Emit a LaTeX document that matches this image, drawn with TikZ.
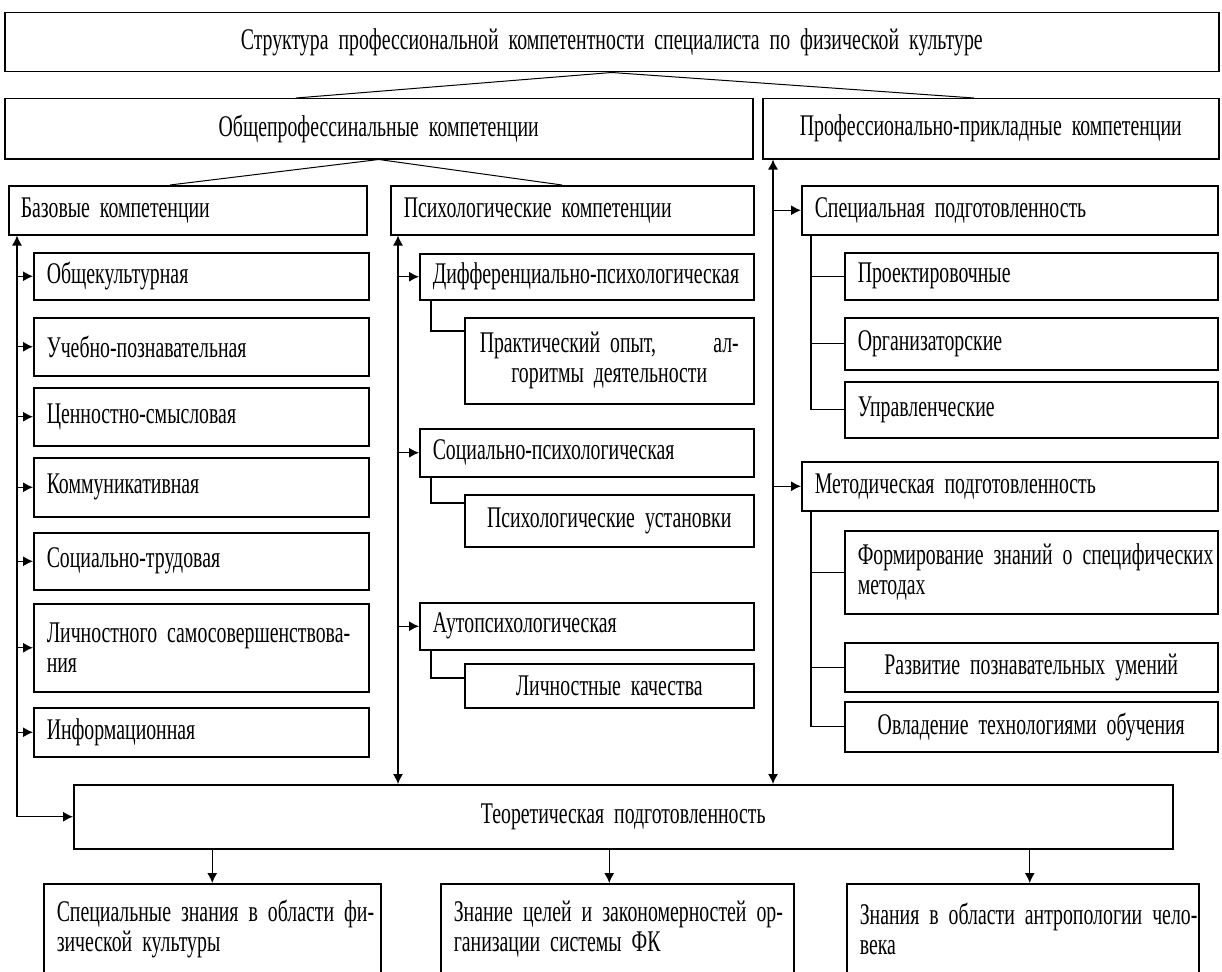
\documentclass[tikz,border=0pt]{standalone}
\usepackage{fontspec}
\setmainfont[FakeStretch=0.66]{Liberation Serif}
\usetikzlibrary{arrows.meta,calc}
\newcommand{\oneline}[1]{\mbox{#1}}
\newcommand{\dfont}{\fontsize{30}{30}\selectfont\fontdimen2\font=4.5pt\fontdimen3\font=1pt\fontdimen4\font=1pt\relax}
\begin{document}
\begin{tikzpicture}[x=1pt,y=-1pt,
  font=\dfont,
  box/.style={draw,line width=1.5pt,anchor=north west,inner xsep=13pt,inner ysep=0pt,align=left},
  cbox/.style={box,align=center},
  lnk/.style={line width=1.2pt},
  thinln/.style={line width=1pt},
  arr/.style={lnk,-{Latex[length=10pt,width=10pt]}},
  dblarr/.style={lnk,{Latex[length=10pt,width=10pt]}-{Latex[length=10pt,width=10pt]}}]
\useasboundingbox (0,0) rectangle (1222,971);
\clip (0,0) rectangle (1222,971);
% level 1-2
\node[cbox,text width=1188pt,minimum height=59pt] (top) at (4,12) {\oneline{Структура профессиональной компетентности специалиста по физической культуре}};
\node[cbox,text width=722pt,minimum height=60pt] (op) at (4,98) {\oneline{Общепрофессинальные компетенции}};
\node[cbox,text width=430pt,minimum height=60pt] (pp) at (762,98) {\oneline{Профессионально-прикладные компетенции}};
% level 3
\node[box,text width=334pt,minimum height=49pt,inner xsep=12pt] (baz) at (8,185) {\oneline{Базовые компетенции}};
\node[box,text width=337pt,minimum height=49pt] (psy) at (390,185) {\oneline{Психологические компетенции}};
\node[box,text width=390pt,minimum height=49pt] (sp) at (801,185) {\oneline{Специальная подготовленность}};
% basic
\node[box,text width=309pt,minimum height=47pt] (b1) at (33,252) {\oneline{Общекультурная}};
\node[box,text width=309pt,minimum height=58pt] (b2) at (33,317) {\oneline{Учебно-познавательная}};
\node[box,text width=309pt,minimum height=58pt] (b3) at (33,387) {\oneline{Ценностно-смысловая}};
\node[box,text width=309pt,minimum height=59pt] (b4) at (33,457) {\oneline{Коммуникативная}};
\node[box,text width=309pt,minimum height=57pt] (b5) at (33,532) {\oneline{Социально-трудовая}};
\node[box,text width=309pt,minimum height=88pt] (b6) at (33,603) {\oneline{Личностного самосовершенствова-}\\\oneline{ния}};
\node[box,text width=309pt,minimum height=49pt] (b7) at (33,707) {\oneline{Информационная}};
% psychological
\node[box,text width=308pt,minimum height=46pt] (d1) at (419,253) {\oneline{Дифференциально-психологическая}};
\node[cbox,text width=259pt,minimum height=86pt,inner xsep=15pt] (p1) at (464,317) {\hbox to 259pt{Практический опыт,\hfill ал-}\\\oneline{горитмы деятельности}};
\node[box,text width=308pt,minimum height=48pt] (d2) at (419,428) {\oneline{Социально-психологическая}};
\node[cbox,text width=263pt,minimum height=52pt] (p2) at (464,494) {\oneline{Психологические установки}};
\node[box,text width=308pt,minimum height=47pt] (d3) at (419,602) {\oneline{Аутопсихологическая}};
\node[cbox,text width=263pt,minimum height=44pt] (p3) at (464,663) {\oneline{Личностные качества}};
% special
\node[box,text width=347pt,minimum height=47pt] (s1) at (844,252) {\oneline{Проектировочные}};
\node[box,text width=347pt,minimum height=52pt] (s2) at (844,317) {\oneline{Организаторские}};
\node[box,text width=347pt,minimum height=56pt] (s3) at (844,381) {\oneline{Управленческие}};
\node[box,text width=390pt,minimum height=49pt] (mp) at (801,461) {\oneline{Методическая подготовленность}};
\node[box,text width=347pt,minimum height=83pt] (m1) at (844,530) {\oneline{Формирование знаний о специфических}\\\oneline{методах}};
\node[cbox,text width=347pt,minimum height=49pt] (m2) at (844,642) {\oneline{Развитие познавательных умений}};
\node[cbox,text width=347pt,minimum height=50pt] (m3) at (844,701) {\oneline{Овладение технологиями обучения}};
% theoretical
\node[cbox,text width=1073pt,minimum height=64pt] (teor) at (73,784) {\oneline{Теоретическая подготовленность}};
\node[box,text width=311pt,minimum height=90pt] (k1) at (43,883) {\oneline{Специальные знания в области фи-}\\\oneline{зической культуры}};
\node[box,text width=327pt,minimum height=90pt] (k2) at (440,883) {\oneline{Знание целей и закономерностей ор-}\\\oneline{ганизации системы ФК}};
\node[box,text width=326pt,minimum height=90pt] (k3) at (846,883) {\oneline{Знания в области антропологии чело-}\\\oneline{века}};
% coordinates
\coordinate (tL) at ($(op.north west)+(292,0)$);
\coordinate (tR) at ($(pp.north west)+(212,0)$);
\coordinate (oL) at ($(baz.north west)+(162,0)$);
\coordinate (oR) at ($(psy.north west)+(172,0)$);
\coordinate (sB) at ($(baz.south west)+(9,0)$);
\coordinate (sP) at ($(psy.south west)+(8,0)$);
\coordinate (sR) at ($(pp.south west)+(11,0)$);
\coordinate (sS) at ($(sp.south west)+(10,0)$);
\coordinate (sM) at ($(mp.south west)+(10,0)$);
\coordinate (a2) at ($(k2.north)+(-8,0)$);
\coordinate (a3) at ($(k3.north)+(7,0)$);
% top fan
\draw[thinln] (tL) -- (top.south) -- (tR);
\draw[thinln] (oL) -- (op.south) -- (oR);
% basic spine
\draw[dblarr] (sB) |- (teor.west);
\foreach \n in {b1,b2,b3,b4,b5,b6,b7} \draw[arr] (sB |- \n.west) -- (\n.west);
% psych spine
\draw[dblarr] (sP) -- (sP |- teor.north);
\foreach \n in {d1,d2,d3} \draw[arr] (sP |- \n.west) -- (\n.west);
\draw[lnk] ($(d1.south west)+(12,0)$) |- ($(p1.north west)+(0,14)$);
\draw[lnk] ($(d2.south west)+(12,0)$) |- ($(p2.north west)+(0,9)$);
\draw[lnk] ($(d3.south west)+(12,0)$) |- ($(p3.north west)+(0,15)$);
% right spine
\draw[dblarr] (sR) -- (sR |- teor.north);
\foreach \n in {sp,mp} \draw[arr] (sR |- \n.west) -- (\n.west);
\draw[lnk] (sS) |- (s3.west);
\foreach \n in {s1,s2} \draw[lnk] (sS |- \n.west) -- (\n.west);
\draw[lnk] (sM) |- (m3.west);
\foreach \n in {m1,m2} \draw[lnk] (sM |- \n.west) -- (\n.west);
% bottom arrows
\draw[arr] (teor.south -| k1.north) -- (k1.north);
\draw[arr] (teor.south -| a2) -- (a2);
\draw[arr] (teor.south -| a3) -- (a3);
\end{tikzpicture}
\end{document}
